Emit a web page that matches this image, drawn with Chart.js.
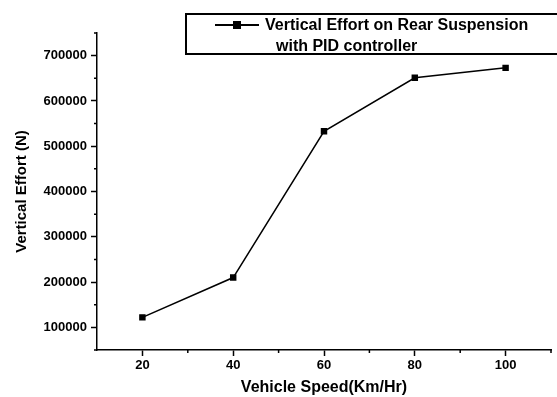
<!DOCTYPE html>
<html>
<head>
<meta charset="utf-8">
<script src="https://cdn.jsdelivr.net/npm/chart.js@4/dist/chart.umd.min.js"></script>
<style>
    html, body { margin: 0; padding: 0; background: #fff; }
    #wrap { position: relative; width: 557px; height: 397px; overflow: hidden; }
    #legend {
        position: absolute; left: 185px; top: 13px; width: 390px; height: 38px;
        border: 2px solid #000; box-sizing: content-box;
        font: bold 16px "Liberation Sans", Arial, sans-serif; color: #000;
        line-height: 18px;
    }
    #legend .l1 { position: absolute; left: 78px; top: 1px; white-space: nowrap; }
    #legend .l2 { position: absolute; left: 89px; top: 22px; white-space: nowrap; }
    #legend svg { position: absolute; left: 28px; top: 4px; }
</style>
</head>
<body>
<div id="wrap">
    <canvas id="chart" width="557" height="397"></canvas>
    <div id="legend">
        <svg width="44" height="12"><line x1="0" y1="6" x2="44" y2="6" stroke="#000" stroke-width="2"/><rect x="18" y="2" width="8" height="8" fill="#000"/></svg>
        <span class="l1">Vertical Effort on Rear Suspension</span>
        <span class="l2">with PID controller</span>
    </div>
</div>
<script>
const speeds = [20, 40, 60, 80, 100];
const effort = [122000, 210000, 533000, 651000, 673000];
const xTicks = [20, 40, 60, 80, 100];
const yTicks = [100000, 200000, 300000, 400000, 500000, 600000, 700000];

const family = '"Liberation Sans", Arial, sans-serif';
const tickFont = { family: family, weight: 'bold', size: 13 };

// short minor ticks halfway between the labelled ones
const minorTicks = {
    id: 'minorTicks',
    afterDraw(chart) {
        const ctx = chart.ctx;
        const x = chart.scales.x, y = chart.scales.y;
        ctx.save();
        ctx.strokeStyle = '#000';
        ctx.lineWidth = 1.5;
        ctx.beginPath();
        for (let v = 30; v <= 110; v += 20) {
            const px = x.getPixelForValue(v);
            ctx.moveTo(px, y.bottom);
            ctx.lineTo(px, y.bottom + 3);
        }
        for (let v = 50000; v <= 750000; v += 100000) {
            const py = y.getPixelForValue(v);
            ctx.moveTo(x.left, py);
            ctx.lineTo(x.left - 3, py);
        }
        ctx.stroke();
        ctx.restore();
    }
};

new Chart(document.getElementById('chart'), {
    type: 'line',
    data: {
        datasets: [{
            data: speeds.map((s, i) => ({ x: s, y: effort[i] })),
            borderColor: '#000',
            backgroundColor: '#000',
            borderWidth: 1.5,
            pointStyle: 'rect',
            pointRadius: 3.5,
            tension: 0
        }]
    },
    plugins: [minorTicks],
    options: {
        responsive: false,
        animation: false,
        layout: { padding: { top: 33, right: 6, left: 0, bottom: 0 } },
        plugins: { legend: { display: false }, tooltip: { enabled: false } },
        scales: {
            x: {
                type: 'linear',
                min: 10,
                max: 110,
                afterBuildTicks: scale => { scale.ticks = xTicks.map(v => ({ value: v })); },
                afterFit: scale => { scale.height = 47; },
                grid: { drawOnChartArea: false, tickLength: 6, tickColor: '#000', tickWidth: 1.5 },
                border: { color: '#000', width: 1.5 },
                ticks: { color: '#000', font: tickFont, padding: 2, maxRotation: 0 },
                title: { display: true, text: 'Vehicle Speed(Km/Hr)', color: '#000',
                    font: { family: family, weight: 'bold', size: 16 }, padding: { top: 2, bottom: 0 } }
            },
            y: {
                min: 50000,
                max: 750000,
                afterBuildTicks: scale => { scale.ticks = yTicks.map(v => ({ value: v })); },
                afterFit: scale => { scale.width = 97; },
                grid: { drawOnChartArea: false, tickLength: 6, tickColor: '#000', tickWidth: 1.5 },
                border: { color: '#000', width: 1.5 },
                ticks: { color: '#000', font: tickFont, padding: 4, callback: v => String(v) },
                title: { display: true, text: 'Vertical Effort (N)', color: '#000',
                    font: { family: family, weight: 'bold', size: 15 }, padding: { top: 13, bottom: 4 } }
            }
        }
    }
});
</script>
</body>
</html>
